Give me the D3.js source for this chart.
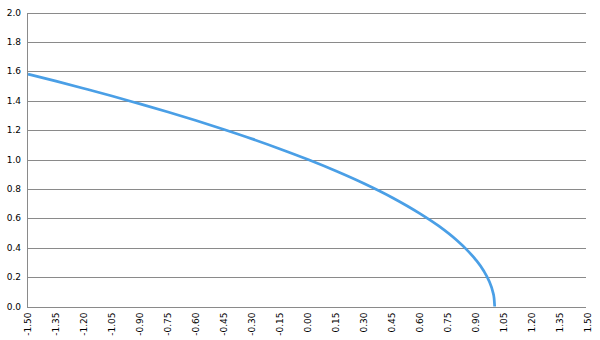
<!DOCTYPE html>
<html>
<head>
<meta charset="utf-8">
<script src="https://cdn.jsdelivr.net/npm/d3@7"></script>
<style>
  body { margin: 0; background: #fff; }
  svg text { font-family: Verdana, "DejaVu Sans", sans-serif; font-size: 9px; fill: #000; }
</style>
</head>
<body>
<div class="chart"></div>
<script>
// values
const xValues = [-1.5, -1.35, -1.2, -1.05, -0.9, -0.75, -0.6, -0.45, -0.3, -0.15, 0, 0.15, 0.3, 0.45, 0.6, 0.7, 0.8, 0.85, 0.9, 0.94, 0.97, 0.99, 0.997, 1.0]
const yValues = [1.581, 1.533, 1.483, 1.432, 1.378, 1.323, 1.265, 1.204, 1.140, 1.072, 1.000, 0.922, 0.837, 0.742, 0.632, 0.548, 0.447, 0.387, 0.316, 0.245, 0.173, 0.100, 0.055, 0.0]
const xTicks = ['-1.50', '-1.35', '-1.20', '-1.05', '-0.90', '-0.75', '-0.60', '-0.45', '-0.30', '-0.15', '0.00',
  '0.15', '0.30', '0.45', '0.60', '0.75', '0.90', '1.05', '1.20', '1.35', '1.50']
const yTicks = ['0.0', '0.2', '0.4', '0.6', '0.8', '1.0', '1.2', '1.4', '1.6', '1.8', '2.0']

const width = 600
const height = 340
const margin = { top: 13, right: 13, bottom: 34, left: 27 }

const svg = d3.select('.chart')
  .append('svg')
  .attr('width', width)
  .attr('height', height)

const x = d3.scaleLinear().domain([-1.5, 1.5]).range([margin.left + 1, width - margin.right + 1])
const y = d3.scaleLinear().domain([0, 2]).range([height - margin.bottom + 0.5, margin.top - 0.5])

// horizontal gridlines
svg.append('g')
  .selectAll('line')
  .data(yTicks)
  .enter()
  .append('line')
  .attr('x1', margin.left)
  .attr('x2', width - margin.right - 1)
  .attr('y1', d => Math.round(y(+d)) + 0.5)
  .attr('y2', d => Math.round(y(+d)) + 0.5)
  .attr('stroke', '#8a8a8a')
  .attr('stroke-width', 1)

// left axis line
svg.append('line')
  .attr('x1', margin.left + 0.5)
  .attr('x2', margin.left + 0.5)
  .attr('y1', Math.round(y(2)) + 0.5)
  .attr('y2', Math.round(y(0)) + 0.5)
  .attr('stroke', '#8a8a8a')

// y labels
svg.append('g')
  .selectAll('text')
  .data(yTicks)
  .enter()
  .append('text')
  .attr('x', margin.left - 6)
  .attr('y', d => y(+d) + 3)
  .attr('text-anchor', 'end')
  .text(d => d)

// x labels, rotated
svg.append('g')
  .selectAll('text')
  .data(xTicks)
  .enter()
  .append('text')
  .attr('transform', d => `translate(${x(+d) + 3},${y(0) + 6}) rotate(-90)`)
  .attr('text-anchor', 'end')
  .text(d => d)

const points = xValues.map((v, i) => [v, yValues[i]])

const line = d3.line()
  .x(d => x(d[0]))
  .y(d => y(d[1]))
  .curve(d3.curveMonotoneX)

svg.append('path')
  .datum(points)
  .attr('d', line)
  .attr('fill', 'none')
  .attr('stroke', '#4a9fe6')
  .attr('stroke-width', 2.75)
</script>
</body>
</html>
